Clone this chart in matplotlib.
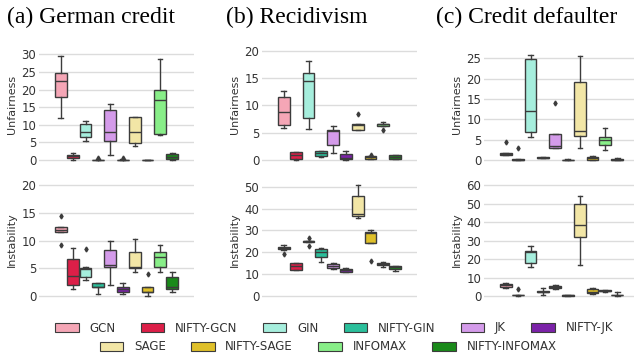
import matplotlib
matplotlib.use('Agg')
import matplotlib.pyplot as plt
from matplotlib.patches import Patch

# modelos y colores
models = ['GCN', 'NIFTY-GCN', 'GIN', 'NIFTY-GIN', 'JK', 'NIFTY-JK',
          'SAGE', 'NIFTY-SAGE', 'INFOMAX', 'NIFTY-INFOMAX']
colors = ['#f5a6b6', '#dc1f48', '#a6eedd', '#2bbf9b', '#d49bea', '#7b22a8',
          '#f2e6a6', '#dfc02a', '#88ee88', '#1a8a1a']

# resumen de cada caja: [bigote inf, Q1, mediana, Q3, bigote sup]
german_unfair = [
    [11.8, 17.8, 22.3, 24.7, 29.5],
    [0.1, 0.7, 1.0, 1.5, 1.9],
    [5.4, 6.6, 7.9, 10.2, 11.1],
    [0.0, 0.0, 0.05, 0.1, 0.2],
    [1.3, 5.5, 7.9, 14.3, 15.9],
    [0.0, 0.0, 0.05, 0.1, 0.2],
    [3.9, 4.9, 7.9, 12.3, 12.3],
    [0.0, 0.0, 0.0, 0.05, 0.05],
    [7.0, 7.4, 17.1, 19.8, 28.7],
    [0.0, 0.2, 0.9, 1.7, 1.9],
]
german_unfair_fliers = [[], [], [], [0.6], [], [0.6], [], [], [], []]

german_instab = [
    [11.5, 11.6, 11.9, 12.4, 12.5],
    [1.2, 2.0, 3.6, 6.7, 8.7],
    [2.8, 3.5, 4.8, 5.1, 5.2],
    [0.4, 1.6, 1.7, 2.4, 2.4],
    [2.0, 5.2, 5.6, 8.3, 10.0],
    [0.4, 0.8, 1.2, 1.6, 2.4],
    [4.4, 5.1, 5.2, 8.0, 10.3],
    [0.0, 0.7, 0.8, 1.6, 1.6],
    [4.4, 5.2, 7.1, 8.0, 9.1],
    [0.8, 1.2, 1.6, 3.5, 4.4],
]
german_instab_fliers = [[14.5, 9.1], [], [8.4], [], [], [], [], [4.0], [], []]

recid_unfair = [
    [5.8, 6.4, 8.8, 11.5, 12.6],
    [0.0, 0.2, 0.85, 1.5, 1.5],
    [5.7, 7.7, 14.5, 15.9, 18.2],
    [0.6, 0.7, 1.2, 1.6, 1.7],
    [1.2, 2.8, 5.3, 5.4, 6.3],
    [0.0, 0.1, 0.4, 1.15, 1.6],
    [5.4, 5.4, 6.4, 6.5, 6.6],
    [0.25, 0.25, 0.5, 0.65, 0.65],
    [6.2, 6.2, 6.5, 6.65, 6.9],
    [0.25, 0.25, 0.6, 0.85, 0.95],
]
recid_unfair_fliers = [[], [], [], [], [], [], [8.4], [1.0], [5.4], []]

recid_instab = [
    [21.0, 21.3, 22.0, 22.6, 23.2],
    [11.9, 11.9, 13.7, 14.9, 15.2],
    [24.6, 24.6, 25.0, 25.2, 25.2],
    [15.4, 17.7, 20.3, 21.3, 21.8],
    [12.3, 12.8, 13.9, 14.5, 14.9],
    [10.8, 11.1, 11.9, 12.3, 12.8],
    [35.5, 36.6, 37.7, 45.6, 50.6],
    [24.2, 24.2, 29.0, 29.1, 30.0],
    [13.4, 14.2, 14.6, 14.9, 15.4],
    [11.4, 12.5, 13.1, 13.6, 13.9],
]
recid_instab_fliers = [[19.1], [], [26.4, 22.9], [], [], [], [], [16.2], [], []]

credit_unfair = [
    [1.2, 1.25, 1.5, 1.65, 1.7],
    [0.0, 0.0, 0.1, 0.15, 0.15],
    [5.6, 6.85, 12.0, 24.75, 25.9],
    [0.4, 0.5, 0.6, 0.7, 0.8],
    [2.9, 3.05, 3.55, 6.35, 6.35],
    [0.0, 0.0, 0.05, 0.1, 0.35],
    [3.05, 5.9, 7.2, 19.1, 25.6],
    [0.05, 0.05, 0.4, 0.8, 1.0],
    [2.5, 3.6, 4.95, 5.6, 7.8],
    [0.0, 0.05, 0.1, 0.2, 0.45],
]
credit_unfair_fliers = [[4.4], [3.0], [], [], [14.0], [], [], [], [], []]

credit_instab = [
    [4.5, 5.1, 6.0, 6.5, 6.9],
    [0.2, 0.3, 0.4, 0.5, 0.6],
    [15.5, 17.7, 23.9, 24.6, 26.9],
    [0.5, 1.9, 2.2, 2.6, 4.2],
    [3.8, 4.2, 4.7, 5.4, 5.8],
    [0.2, 0.25, 0.3, 0.4, 0.5],
    [16.6, 32.2, 38.3, 49.9, 54.1],
    [1.1, 1.4, 2.4, 3.8, 4.2],
    [2.4, 2.5, 2.7, 3.1, 3.2],
    [0.2, 0.3, 0.5, 0.8, 2.0],
]
credit_instab_fliers = [[], [3.6], [], [], [], [], [], [], [], []]

titles = ['(a) German credit', '(b) Recidivism', '(c) Credit defaulter']

W, H = 634, 356
fig = plt.figure(figsize=(W / 100, H / 100), dpi=100)

EDGE = '#3c3c3c'


def px_axes(left, top, width, height):
    return fig.add_axes([left / W, 1 - (top + height) / H, width / W, height / H])


def draw_box(ax, summary, fliers, zero_px, ppu, top_px, bot_px, ticks, ylabel):
    stats = []
    for s, f in zip(summary, fliers):
        stats.append(dict(whislo=s[0], q1=s[1], med=s[2], q3=s[3], whishi=s[4], fliers=f))
    bp = ax.bxp(stats, positions=list(range(10)), widths=0.95, patch_artist=True,
                capwidths=0.38,
                boxprops=dict(edgecolor=EDGE, linewidth=1.0),
                medianprops=dict(color=EDGE, linewidth=1.0),
                whiskerprops=dict(color=EDGE, linewidth=1.0),
                capprops=dict(color=EDGE, linewidth=1.0),
                flierprops=dict(marker='d', markersize=2.5, markerfacecolor=EDGE,
                                markeredgecolor=EDGE))
    for patch, c in zip(bp['boxes'], colors):
        patch.set_facecolor(c)
    ax.set_xlim(-1.75, 10.75)
    ax.set_ylim(-(bot_px - zero_px) / ppu, (zero_px - top_px) / ppu)
    ax.set_yticks(ticks)
    ax.set_xticks([])
    ax.yaxis.grid(True, color='#dcdcdc', linewidth=1.0)
    ax.set_axisbelow(True)
    for sp in ax.spines.values():
        sp.set_visible(False)
    ax.tick_params(axis='y', length=0, pad=2, labelsize=8.5, labelcolor='#333333')
    ax.set_ylabel(ylabel, fontsize=8, color='#333333', labelpad=3)


lefts = [39, 262, 484]
top_data = [(german_unfair, german_unfair_fliers, 3.523, range(0, 31, 5)),
            (recid_unfair, recid_unfair_fliers, 5.465, range(0, 21, 5)),
            (credit_unfair, credit_unfair_fliers, 4.07, range(0, 26, 5))]
bot_data = [(german_instab, german_instab_fliers, 5.55, range(0, 21, 5)),
            (recid_instab, recid_instab_fliers, 2.187, range(0, 51, 10)),
            (credit_instab, credit_instab_fliers, 1.845, range(0, 61, 10))]

for i in range(3):
    ax = px_axes(lefts[i], 46, 155, 117)
    d, f, ppu, t = top_data[i]
    draw_box(ax, d, f, 160, ppu, 46, 163, list(t), 'Unfairness')
    ax = px_axes(lefts[i], 180, 155, 119)
    d, f, ppu, t = bot_data[i]
    draw_box(ax, d, f, 296, ppu, 180, 299, list(t), 'Instability')

title_x = [91, 297, 527]
for tx, t in zip(title_x, titles):
    fig.text(tx / W, 1 - 17 / H, t, ha='center', va='center',
             fontsize=17, family='Liberation Serif')

# leyenda en dos filas centradas
handles = [Patch(facecolor=c, edgecolor=EDGE, linewidth=0.8, label=m)
           for c, m in zip(colors, models)]
leg_kw = dict(frameon=False, fontsize=8.5, handlelength=2.0, handleheight=0.7,
              handletextpad=0.9, columnspacing=2.15, borderaxespad=0,
              labelcolor='#333333')
fig.legend(handles=handles[:6], ncol=6, loc='center',
           bbox_to_anchor=(334 / W, 1 - 328 / H), **leg_kw)
fig.legend(handles=handles[6:], ncol=4, loc='center',
           bbox_to_anchor=(328 / W, 1 - 347 / H), **leg_kw)

plt.savefig('out.png', dpi=100)
